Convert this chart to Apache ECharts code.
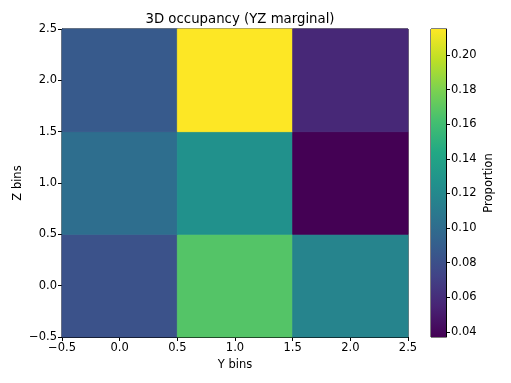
<!DOCTYPE html>
<html><head><meta charset="utf-8">
<script src="https://cdn.jsdelivr.net/npm/echarts@6/dist/echarts.min.js"></script>
<style>html,body{margin:0;padding:0;background:#fff}#c{width:511px;height:383px}</style>
</head><body><div id="c"></div>
<script>
const yBins = [0, 1, 2];
const zBins = [0, 1, 2];
// proportion[zIndex][yIndex]
const row_z0 = [0.082, 0.167, 0.117];
const row_z1 = [0.101, 0.126, 0.0371];
const row_z2 = [0.087, 0.215, 0.057];
const rows = [row_z0, row_z1, row_z2];
const cbTicks = [0.04, 0.06, 0.08, 0.10, 0.12, 0.14, 0.16, 0.18, 0.20];
const viridis = ['#440154','#482475','#414487','#355f8d','#2a788e','#21918c','#22a884','#44bf70','#7ad151','#bddf26','#fde725'];

const cells = [];
zBins.forEach((z, zi) => yBins.forEach((y, yi) => cells.push([y, z, rows[zi][yi]])));
const allVals = cells.map(c => c[2]);
const vMin = Math.min(...allVals), vMax = Math.max(...allVals);

const font = 'DejaVu Sans';
const chart = echarts.init(document.getElementById('c'));
const tickStyle = {color: '#000', fontFamily: font, fontSize: 11.5};
const nameStyle = {fontFamily: font, fontSize: 11.5, color: '#000'};
const fmt = v => (v < 0 ? '\u2212' : '') + Math.abs(v).toFixed(1);
chart.setOption({
  animation: false,
  title: {text: '3D occupancy (YZ marginal)', left: 235, top: 8, textAlign: 'center',
    textStyle: {fontFamily: font, fontSize: 13.3, fontWeight: 'normal', color: '#000'}},
  grid: [
    {left: 62, top: 29, width: 346, height: 308, outerBoundsMode: 'none', containLabel: false, show: true, borderColor: '#000', borderWidth: 1, backgroundColor: 'transparent'},
    {left: 431, top: 29, width: 15, height: 308, outerBoundsMode: 'none', containLabel: false, show: true, borderColor: '#000', borderWidth: 1, backgroundColor: 'transparent'}
  ],
  xAxis: [
    {type: 'value', gridIndex: 0, min: -0.5, max: 2.5, interval: 0.5,
      name: 'Y bins', nameLocation: 'middle', nameGap: 22, nameTextStyle: nameStyle,
      axisLine: {show: true, onZero: false, lineStyle: {color: '#000'}}, axisTick: {show: true, length: 4, lineStyle: {color: '#000'}},
      axisLabel: {...tickStyle, margin: 5, formatter: fmt},
      splitLine: {show: false}},
    {type: 'value', gridIndex: 1, min: 0, max: 1, show: false}
  ],
  yAxis: [
    {type: 'value', gridIndex: 0, min: -0.5, max: 2.5, interval: 0.5,
      name: 'Z bins', nameLocation: 'middle', nameGap: 38, nameMoveOverlap: false, nameRotate: 90, nameTextStyle: nameStyle,
      axisLine: {show: true, onZero: false, lineStyle: {color: '#000'}}, axisTick: {show: true, length: 4, lineStyle: {color: '#000'}},
      axisLabel: {...tickStyle, margin: 5, formatter: fmt},
      splitLine: {show: false}},
    {type: 'value', gridIndex: 1, min: vMin, max: vMax, position: 'right',
      name: 'Proportion', nameLocation: 'middle', nameGap: 37, nameRotate: 90, nameTextStyle: nameStyle,
      axisLine: {show: true, onZero: false, lineStyle: {color: '#000'}},
      axisTick: {show: true, length: 4, lineStyle: {color: '#000'}, customValues: cbTicks},
      axisLabel: {...tickStyle, margin: 5, customValues: cbTicks, formatter: v => v.toFixed(2)},
      splitLine: {show: false}}
  ],
  visualMap: {show: false, seriesIndex: 0, dimension: 2, min: vMin, max: vMax, inRange: {color: viridis}},
  series: [
    {type: 'custom', xAxisIndex: 0, yAxisIndex: 0, data: cells, z: 1,
      renderItem: (params, api) => {
        const p1 = api.coord([api.value(0) - 0.5, api.value(1) + 0.5]);
        const p2 = api.coord([api.value(0) + 0.5, api.value(1) - 0.5]);
        const col = api.visual('color');
        return {type: 'rect', shape: {x: p1[0], y: p1[1], width: p2[0] - p1[0], height: p2[1] - p1[1]},
          style: {fill: col, stroke: col, lineWidth: 0.8}};
      }},
    {type: 'custom', xAxisIndex: 1, yAxisIndex: 1, data: [[0, vMin, 1, vMax]], z: 1,
      renderItem: (params, api) => {
        const p1 = api.coord([api.value(0), api.value(3)]);
        const p2 = api.coord([api.value(2), api.value(1)]);
        const stops = viridis.map((c, i) => ({offset: i / (viridis.length - 1), color: c}));
        return {type: 'rect', shape: {x: p1[0], y: p1[1], width: p2[0] - p1[0], height: p2[1] - p1[1]},
          style: {fill: new echarts.graphic.LinearGradient(0, 1, 0, 0, stops)}};
      }}
  ]
});
</script></body></html>
